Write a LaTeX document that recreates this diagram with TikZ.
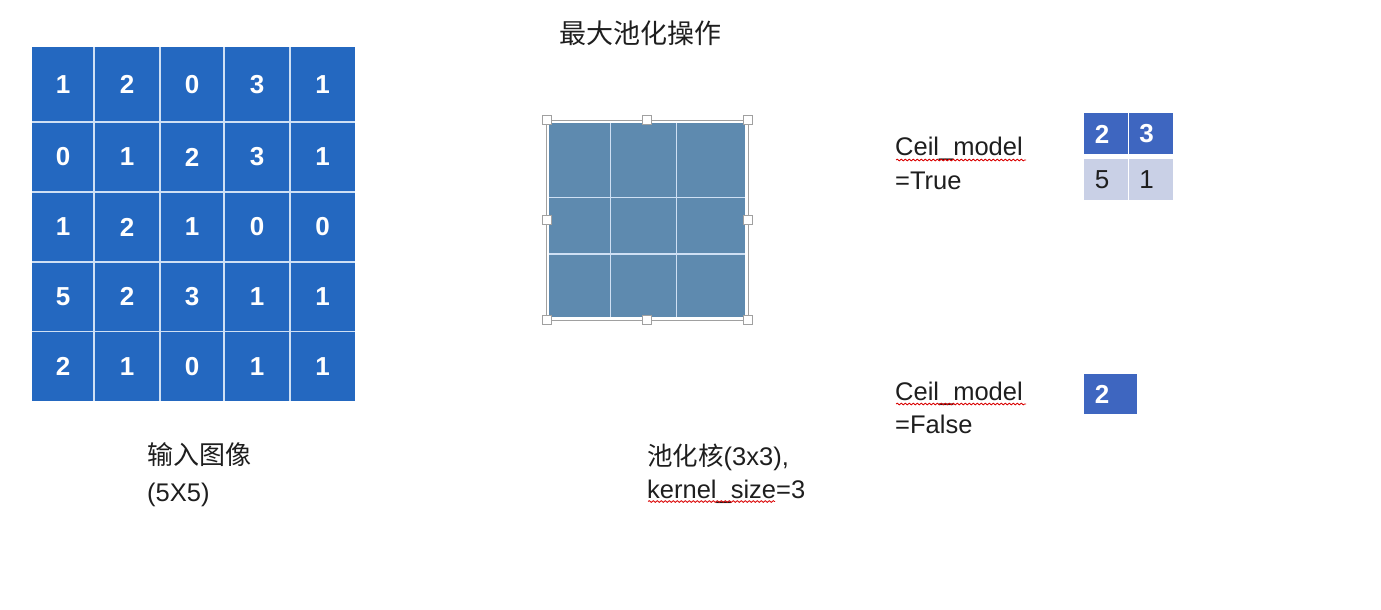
\documentclass[tikz,border=0pt]{standalone}
\usepackage{fontspec}
\setmainfont{Liberation Sans}
\newfontfamily\cjk{Noto Sans CJK SC}
\usetikzlibrary{decorations.pathmorphing,calc}
\definecolor{gridblue}{HTML}{2468C0}
\definecolor{gridline}{HTML}{CFE0F4}
\definecolor{kernelblue}{HTML}{5E8AAF}
\definecolor{outblue}{HTML}{3E66C0}
\definecolor{outlight}{HTML}{C9D0E6}
\definecolor{txt}{HTML}{1E1E1E}
\definecolor{framegray}{HTML}{A0A0A0}
\tikzset{
  num/.style={text=white,font=\fontsize{26}{26}\selectfont\bfseries,inner sep=0pt},
  numdark/.style={text=txt,font=\fontsize{26}{26}\selectfont,inner sep=0pt},
  lbl/.style={text=txt,font=\fontsize{25.5}{30}\selectfont,inner sep=0pt,anchor=base west},
  cjklbl/.style={text=txt,font=\fontsize{26}{30}\selectfont\cjk,inner sep=0pt,anchor=base west},
  handle/.style={draw=framegray,fill=white,line width=0.8pt,minimum size=9pt,inner sep=0pt},
  spell/.style={red!85!black,line width=0.8pt,decorate,decoration={snake,amplitude=0.9pt,segment length=4pt}}
}
\begin{document}
\begin{tikzpicture}[x=1pt,y=-1pt]
\useasboundingbox (0,0) rectangle (1381,610);
% ---------- input grid 5x5 ----------
\def\colx{{32,94,160,224,290,355}}
\def\rowy{{47,122,192,262,331.5,401}}
\fill[gridblue] (32,47) rectangle (355,401);
\foreach \rowvals [count=\r from 0] in {{1,2,0,3,1},{0,1,2,3,1},{1,2,1,0,0},{5,2,3,1,1},{2,1,0,1,1}}{
  \foreach \v [count=\c from 0] in \rowvals {
    \pgfmathsetmacro\xa{\colx[\c]}
    \pgfmathsetmacro\xb{\colx[\c+1]}
    \pgfmathsetmacro\ya{\rowy[\r]}
    \pgfmathsetmacro\yb{\rowy[\r+1]}
    \node[num] (in-\r-\c) at ({(\xa+\xb)/2},{(\ya+\yb)/2}) {\v};
  }
}
\foreach \x in {94,160,224,290} \draw[gridline,line width=1.5pt] (\x,47) -- (\x,401);
\foreach \y in {122,192,262,331.5} \draw[gridline,line width=1.5pt] (32,\y) -- (355,\y);
% ---------- title ----------
\node[cjklbl,font=\fontsize{27}{30}\selectfont\cjk] (title) at (559,44) {最大池化操作};
% ---------- kernel 3x3 ----------
\fill[kernelblue] (549,122.5) rectangle (745,317);
\foreach \x in {610.7,676.7} \draw[gridline,line width=1.5pt] (\x,122.5) -- (\x,317);
\foreach \y in {197.7,254} \draw[gridline,line width=1.5pt] (549,\y) -- (745,\y);
\draw[framegray,line width=0.9pt] (546.5,120) rectangle (748,320);
\node[handle] (h1) at (546.5,120) {};
\node[handle] (h2) at (646.5,120) {};
\node[handle] (h3) at (748,120) {};
\node[handle] (h4) at (546.5,219.5) {};
\node[handle] (h5) at (748,219.5) {};
\node[handle] (h6) at (546.5,320) {};
\node[handle] (h7) at (646.5,320) {};
\node[handle] (h8) at (748,320) {};
% ---------- labels under grids ----------
\node[cjklbl] (inlbl) at (147,464.5) {输入图像};
\node[lbl] (insize) at (147,501) {(5X5)};
\node[lbl] (klbl) at (647,465) {{\cjk 池化核}(3x3),};
\node[lbl] (ksize) at (647,498.5) {kernel\_size=3};
\draw[spell] ($(ksize.base west)+(1,3)$) -- ($(ksize.base west)+(128,3)$);
% ---------- ceil mode true ----------
\node[lbl] (ct1) at (895,155) {Ceil\_model};
\node[lbl] (ct2) at (895,189.3) {=True};
\draw[spell] ($(ct1.base west)+(1,5)$) -- ($(ct1.base west)+(131,5)$);
\fill[outblue] (1084,113) rectangle (1172.7,154);
\fill[outlight] (1084,159) rectangle (1172.7,200);
\draw[white,line width=1.6pt] (1128.3,112) -- (1128.3,201);
\node[num] (t11) at (1102,134) {2};
\node[num] (t12) at (1146.5,134) {3};
\node[numdark] (t21) at (1102,180) {5};
\node[numdark] (t22) at (1146.5,180) {1};
% ---------- ceil mode false ----------
\node[lbl] (cf1) at (895,400) {Ceil\_model};
\node[lbl] (cf2) at (895,433) {=False};
\draw[spell] ($(cf1.base west)+(1,4)$) -- ($(cf1.base west)+(131,4)$);
\fill[outblue] (1084,374) rectangle (1137.3,414.3);
\node[num] (f11) at (1102,394.5) {2};
\end{tikzpicture}
\end{document}
